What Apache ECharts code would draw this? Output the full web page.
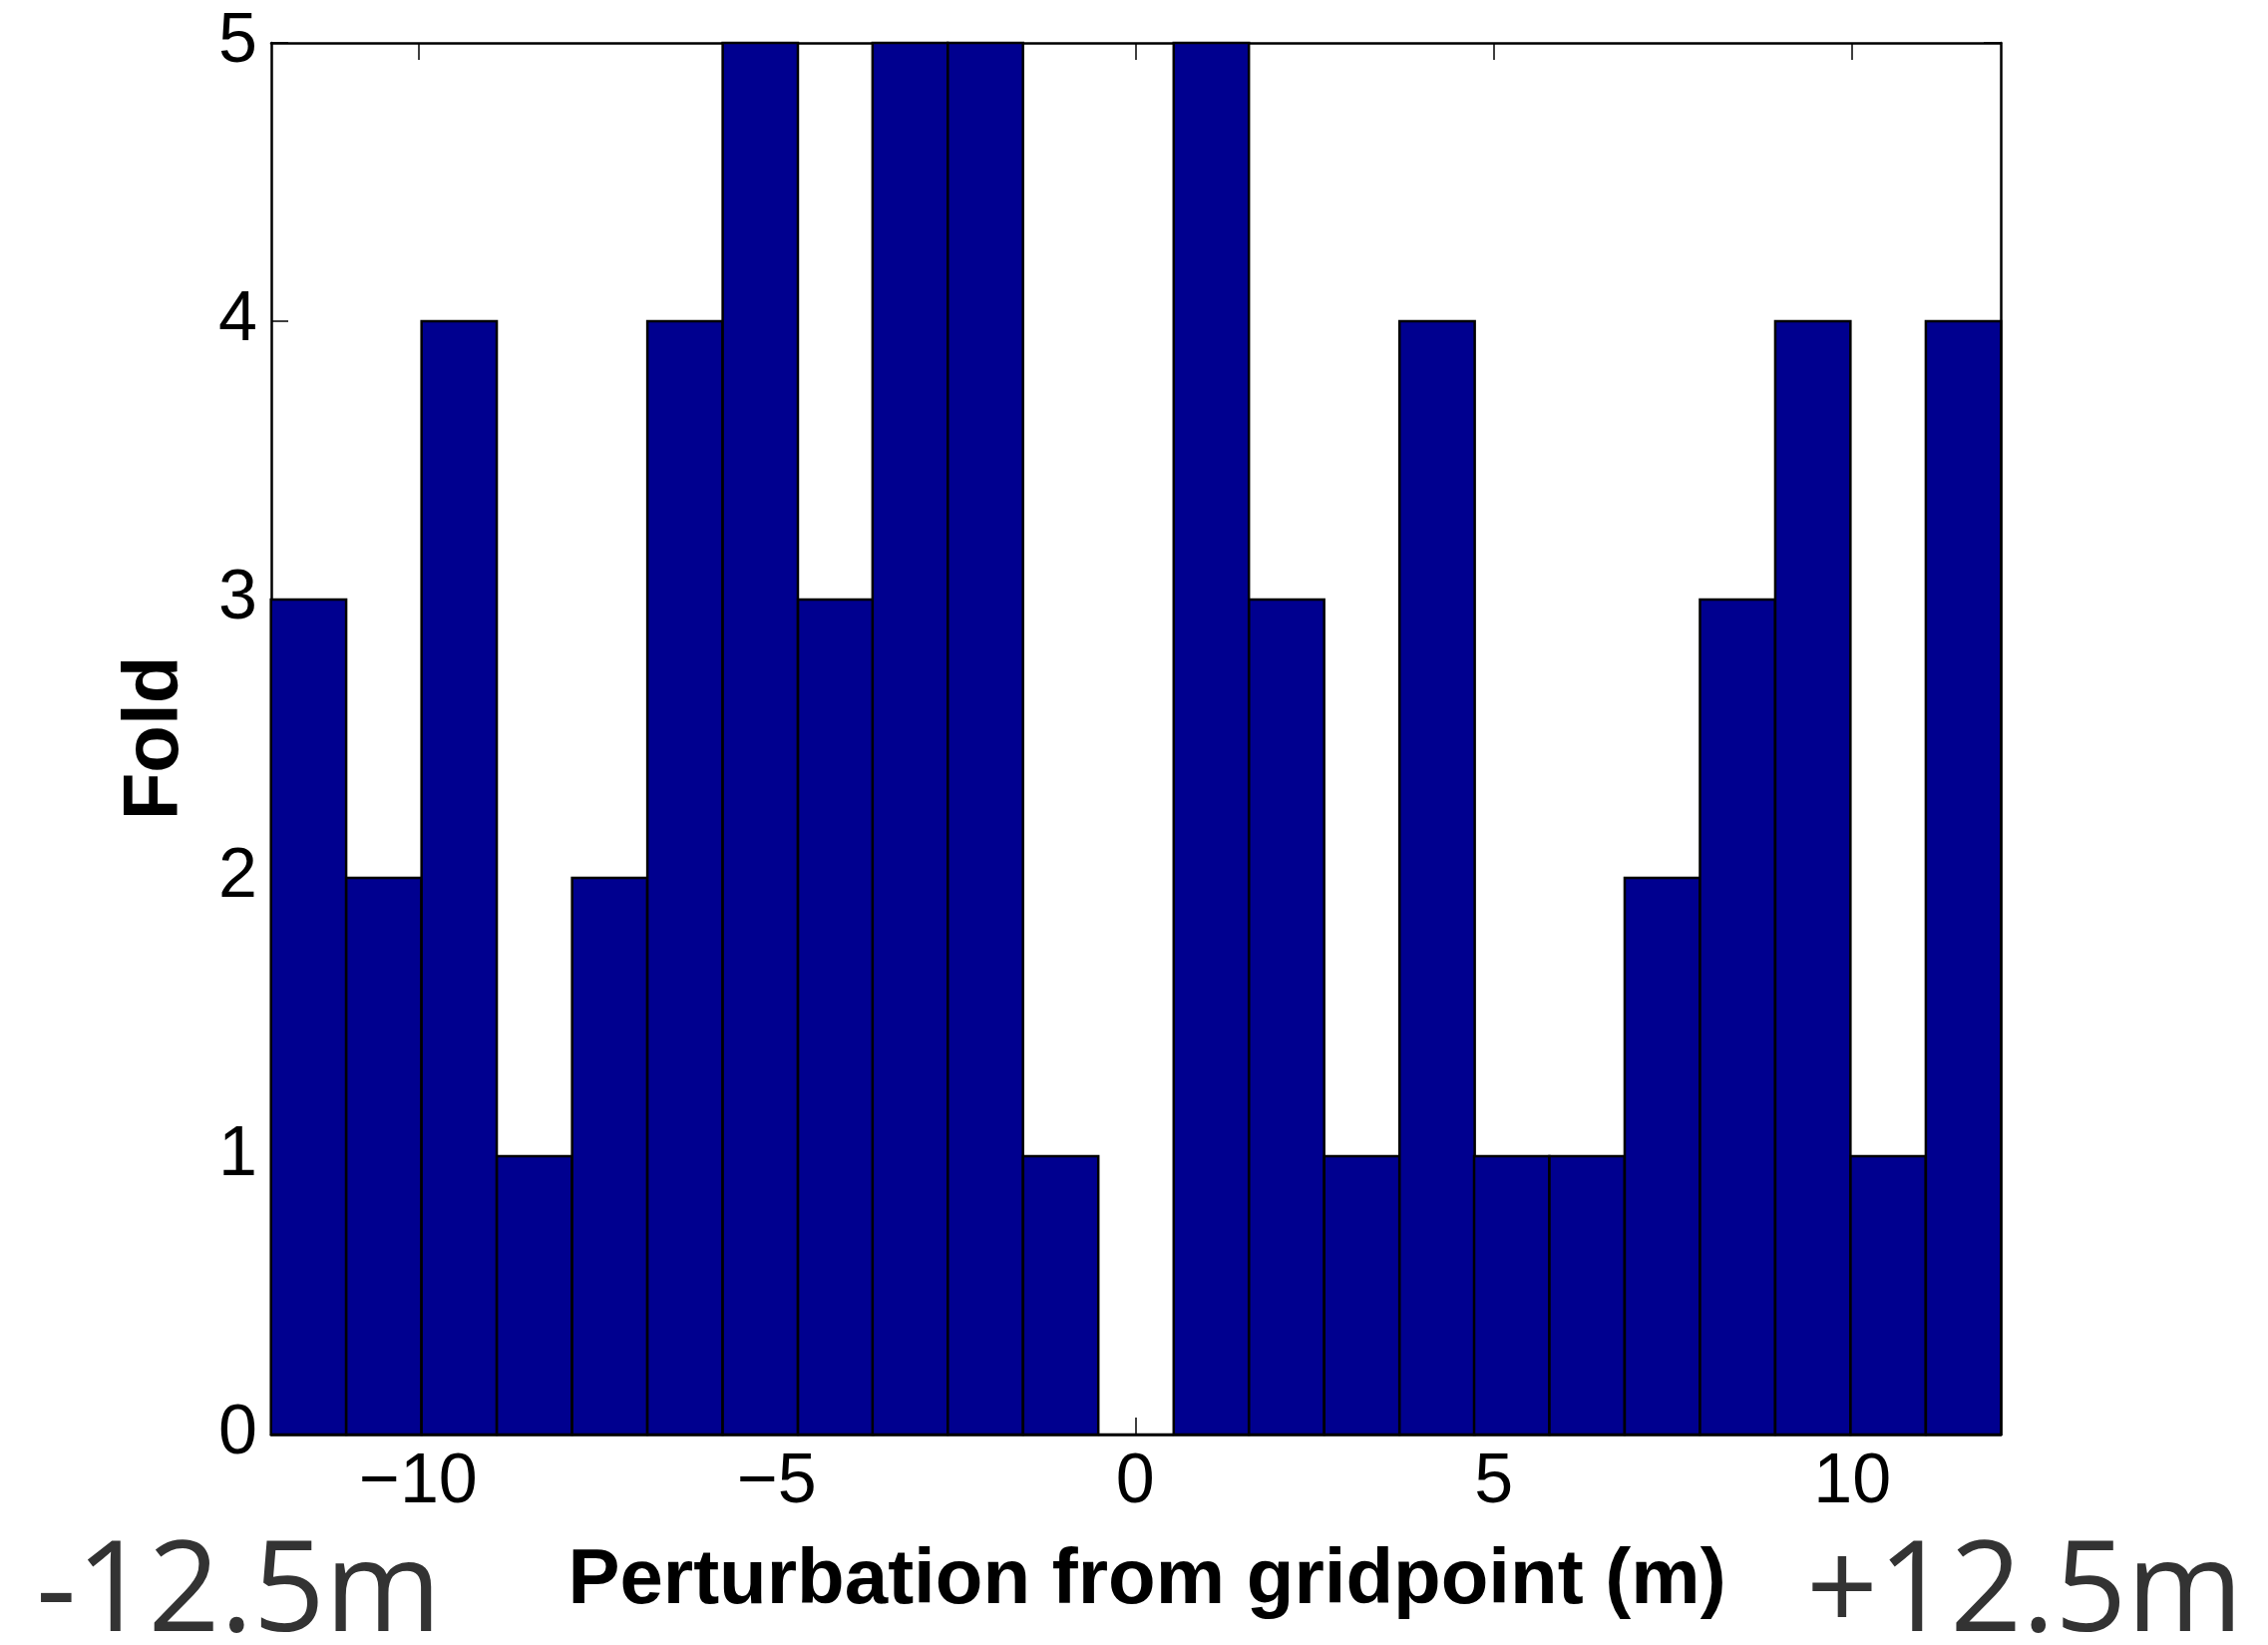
<!DOCTYPE html>
<html>
<head>
<meta charset="utf-8">
<title>Fold histogram</title>
<script src="https://cdn.jsdelivr.net/npm/echarts@6/dist/echarts.min.js"></script>
<style>
  html, body { margin: 0; padding: 0; background: #ffffff; }
  #chart { width: 2274px; height: 1649px; }
</style>
</head>
<body>
<div id="chart"></div>
<script>
// Histogram bins: centre of each bin (m) and the fold count in it
const binCenters = [-11.53, -10.48, -9.43, -8.38, -7.33, -6.28, -5.23, -4.18, -3.14, -2.09, -1.04, 0.01,
                    1.06, 2.11, 3.16, 4.21, 5.25, 6.30, 7.35, 8.40, 9.45, 10.50, 11.55];
const binWidth = 1.0487;
const foldCounts = [3, 2, 4, 1, 2, 4, 5, 3, 5, 5, 1, 0, 5, 3, 1, 4, 1, 1, 2, 3, 4, 1, 4];

// Axis extents and tick positions
const xRange = [-12.05, 12.07];
const xTicks = [-10, -5, 0, 5, 10];
const yRange = [0, 5];
const yTicks = [0, 1, 2, 3, 4, 5];

// Text drawn around the plot
const xTitle = 'Perturbation from gridpoint (m)';
const yTitle = 'Fold';
const leftEndLabel = '-12.5m';
const rightEndLabel = '+12.5m';

const tickFont = 'Liberation Sans, Arial, Helvetica, sans-serif';
const barData = binCenters.map((c, i) => [c, foldCounts[i]]);

const chart = echarts.init(document.getElementById('chart'), null, { renderer: 'canvas' });

function fmtTick(v) {
  return v < 0 ? '\u2212' + Math.abs(v) : String(v);
}

const tickStyle = { show: true, inside: true, length: 17, lineStyle: { color: '#000', width: 1.5 } };
const lineStyle = { show: true, onZero: false, lineStyle: { color: '#000', width: 2.5 } };

chart.setOption({
  animation: false,
  backgroundColor: '#ffffff',
  grid: { left: 272, right: 268, top: 43, bottom: 211, containLabel: false },
  xAxis: [
    {
      type: 'value', position: 'bottom', min: xRange[0], max: xRange[1],
      axisLine: lineStyle,
      axisTick: Object.assign({}, tickStyle, { customValues: xTicks }),
      axisLabel: { show: true, customValues: xTicks, formatter: fmtTick, fontFamily: tickFont, fontSize: 70, color: '#000', margin: 14 },
      splitLine: { show: false }
    },
    {
      type: 'value', position: 'top', min: xRange[0], max: xRange[1],
      axisLine: lineStyle,
      axisTick: Object.assign({}, tickStyle, { customValues: xTicks }),
      axisLabel: { show: false },
      splitLine: { show: false }
    }
  ],
  yAxis: [
    {
      type: 'value', position: 'left', min: yRange[0], max: yRange[1], interval: 1,
      axisLine: lineStyle,
      axisTick: Object.assign({}, tickStyle, { customValues: yTicks }),
      axisLabel: { show: true, customValues: yTicks, fontFamily: tickFont, fontSize: 70, color: '#000', margin: 14 },
      splitLine: { show: false }
    },
    {
      type: 'value', position: 'right', min: yRange[0], max: yRange[1], interval: 1,
      axisLine: lineStyle,
      axisTick: Object.assign({}, tickStyle, { customValues: yTicks }),
      axisLabel: { show: false },
      splitLine: { show: false }
    }
  ],
  series: [{
    type: 'custom',
    xAxisIndex: 0,
    yAxisIndex: 0,
    data: barData,
    clip: false,
    renderItem: function (params, api) {
      const c = api.value(0);
      const v = api.value(1);
      const p0 = api.coord([c - binWidth / 2, v]);
      const p1 = api.coord([c + binWidth / 2, 0]);
      return {
        type: 'rect',
        shape: { x: p0[0], y: p0[1], width: p1[0] - p0[0], height: p1[1] - p0[1] },
        style: { fill: '#00008f', stroke: '#000', lineWidth: 2.5 }
      };
    },
    encode: { x: 0, y: 1 }
  }],
  graphic: [
    {
      type: 'text', x: 156, y: 740, rotation: Math.PI / 2,
      style: { text: yTitle, font: 'bold 78px Liberation Sans, Arial, sans-serif', fill: '#000', align: 'center', verticalAlign: 'middle' }
    },
    {
      type: 'text', x: 1150, y: 1585,
      style: { text: xTitle, font: 'bold 78px Liberation Sans, Arial, sans-serif', fill: '#000', align: 'center', verticalAlign: 'middle' }
    },
    {
      type: 'text', x: 36, y: 1599,
      style: { text: leftEndLabel, font: '126px Open Sans, sans-serif', fill: '#333333', align: 'left', verticalAlign: 'middle' }
    },
    {
      type: 'text', x: 2249, y: 1599,
      style: { text: rightEndLabel, font: '126px Open Sans, sans-serif', fill: '#333333', align: 'right', verticalAlign: 'middle' }
    }
  ]
});
</script>
</body>
</html>
